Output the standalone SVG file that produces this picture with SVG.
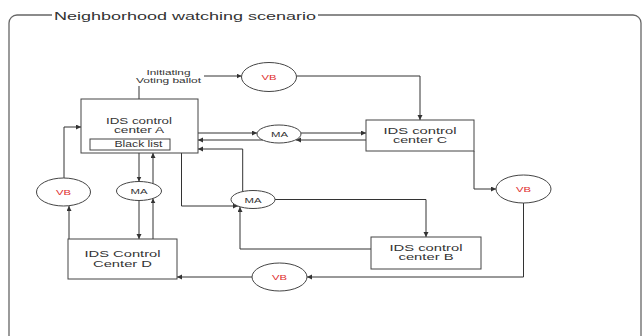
<svg xmlns="http://www.w3.org/2000/svg" width="644" height="336" viewBox="0 0 644 336">
<defs>
<marker id="arr" markerUnits="userSpaceOnUse" markerWidth="6" markerHeight="6" refX="5" refY="2.5" orient="auto">
<path d="M0,0 L5,2.5 L0,5 z" fill="#333"/>
</marker>
<style>
.frame{fill:none;stroke:#666;stroke-width:1.3}
.box{fill:#fff;stroke:#444;stroke-width:1}
.ell{fill:#fff;stroke:#444;stroke-width:1}
.c{fill:none;stroke:#333;stroke-width:1;marker-end:url(#arr)}
.t{font-family:"Liberation Sans",Arial,sans-serif;fill:#333;text-anchor:middle}
.n{font-size:8.5px}
.vb{font-size:8px;fill:#e03030}
.ma{font-size:8px}
</style>
</defs>
<rect width="644" height="336" fill="#fff"/>
<g id="frame">
<path class="frame" d="M52,15 H17 A8,8 0 0 0 9,23 V340"/>
<path class="frame" d="M318,15 H633 A8,8 0 0 1 641,23 V340"/>
<text class="t" x="185" y="19.5" font-size="11.5" textLength="262" lengthAdjust="spacingAndGlyphs">Neighborhood watching scenario</text>
</g>
<g id="connectors">
<path class="c" d="M139,99 V76 H241.5"/>
<path class="c" d="M296.5,76 H420 V120"/>
<path class="c" d="M198,133 H257"/>
<path class="c" d="M301,133 H366"/>
<path class="c" d="M366,140 H296"/>
<path class="c" d="M263,140 H198"/>
<path class="c" d="M474,151 V189 H496"/>
<path class="c" d="M523.5,203 V277 H307"/>
<path class="c" d="M252,277 H177"/>
<path class="c" d="M69,239 V206"/>
<path class="c" d="M64,178 V127 H81"/>
<path class="c" d="M139,153 V181.5"/>
<path class="c" d="M139,200.5 V239"/>
<path class="c" d="M153,239 V198.4"/>
<path class="c" d="M153,183.6 V153"/>
<path class="c" d="M181.5,153 V206 H238"/>
<path class="c" d="M242.7,191.6 V149 H198"/>
<path class="c" d="M275,199.5 H426 V237"/>
<path class="c" d="M371,249 H240 V207"/>
<rect x="134" y="65" width="70" height="21" fill="#fff"/>
<text class="t" x="168.5" y="75" font-size="7.5" textLength="44" lengthAdjust="spacingAndGlyphs">Initiating</text>
<text class="t" x="168.5" y="82.7" font-size="7.5" textLength="65" lengthAdjust="spacingAndGlyphs">Voting ballot</text>
</g>
<g id="nodeA">
<rect class="box" x="81" y="99" width="117" height="54"/>
<text class="t n" x="139" y="124" textLength="66" lengthAdjust="spacingAndGlyphs">IDS control</text>
<text class="t n" x="139" y="133" textLength="50" lengthAdjust="spacingAndGlyphs">center A</text>
<rect class="box" x="90" y="139" width="80" height="11"/>
<text class="t n" x="138.5" y="147" textLength="48" lengthAdjust="spacingAndGlyphs">Black list</text>
</g>
<g id="nodeC">
<rect class="box" x="366" y="120" width="108" height="31"/>
<text class="t n" x="420" y="133.5" textLength="73" lengthAdjust="spacingAndGlyphs">IDS control</text>
<text class="t n" x="420" y="142.5" textLength="54" lengthAdjust="spacingAndGlyphs">center C</text>
</g>
<g id="nodeB">
<rect class="box" x="371" y="237" width="110" height="32"/>
<text class="t n" x="426" y="250.5" textLength="73" lengthAdjust="spacingAndGlyphs">IDS control</text>
<text class="t n" x="426" y="259.5" textLength="55" lengthAdjust="spacingAndGlyphs">center B</text>
</g>
<g id="nodeD">
<rect class="box" x="68" y="239" width="109" height="40"/>
<text class="t n" x="122.5" y="257" textLength="76" lengthAdjust="spacingAndGlyphs">IDS Control</text>
<text class="t n" x="122.5" y="266.5" textLength="59" lengthAdjust="spacingAndGlyphs">Center D</text>
</g>
<g id="vb1">
<ellipse class="ell" cx="269" cy="77" rx="27.5" ry="14.5"/>
<text class="t vb" x="269" y="80" textLength="15" lengthAdjust="spacingAndGlyphs">VB</text>
</g>
<g id="vb2">
<ellipse class="ell" cx="523.5" cy="189" rx="27.5" ry="14"/>
<text class="t vb" x="523.5" y="192" textLength="15" lengthAdjust="spacingAndGlyphs">VB</text>
</g>
<g id="vb3">
<ellipse class="ell" cx="279.5" cy="277" rx="27.5" ry="14"/>
<text class="t vb" x="279.5" y="280" textLength="15" lengthAdjust="spacingAndGlyphs">VB</text>
</g>
<g id="vb4">
<ellipse class="ell" cx="63.5" cy="192" rx="27" ry="14"/>
<text class="t vb" x="63.5" y="195" textLength="15" lengthAdjust="spacingAndGlyphs">VB</text>
</g>
<g id="ma1">
<ellipse class="ell" cx="139" cy="191" rx="22.5" ry="9.5"/>
<text class="t ma" x="139" y="194" textLength="17" lengthAdjust="spacingAndGlyphs">MA</text>
</g>
<g id="ma2">
<ellipse class="ell" cx="279" cy="134" rx="22" ry="9"/>
<text class="t ma" x="279.5" y="137" textLength="17" lengthAdjust="spacingAndGlyphs">MA</text>
</g>
<g id="ma3">
<ellipse class="ell" cx="253" cy="199.5" rx="22" ry="9"/>
<text class="t ma" x="253" y="202.5" textLength="17" lengthAdjust="spacingAndGlyphs">MA</text>
</g>
</svg>
